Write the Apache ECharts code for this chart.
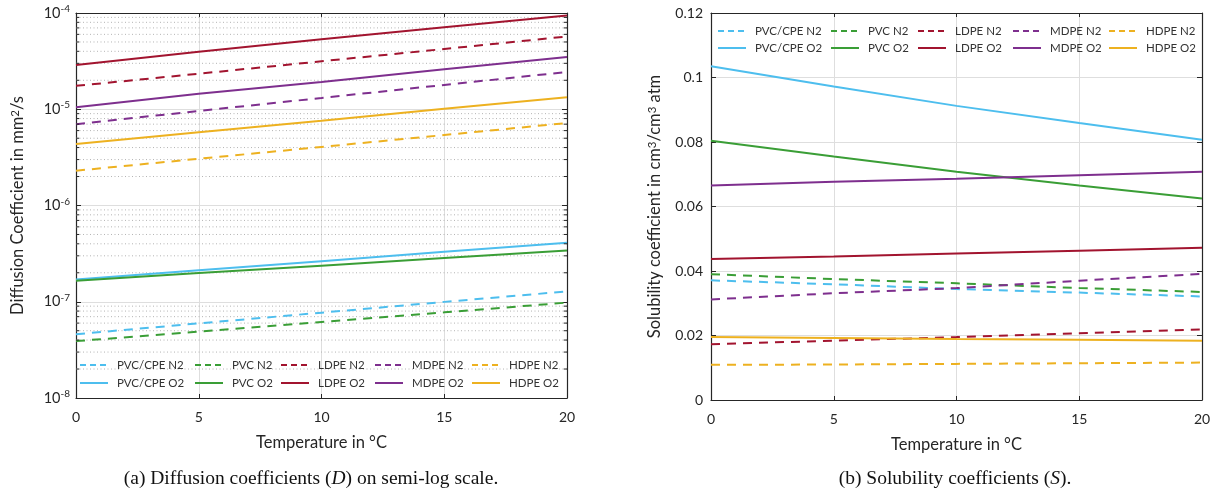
<!DOCTYPE html>
<html><head><meta charset="utf-8">
<script src="https://cdn.jsdelivr.net/npm/echarts@6/dist/echarts.min.js"></script>
<style>html,body{margin:0;padding:0;background:#fff}#c{width:1225px;height:499px}</style>
</head><body><div id="c"></div>
<script>
// ---------- data ----------
const temperatures = [0, 5, 10, 15, 20];
const seriesNames = ['PVC/CPE N2', 'PVC N2', 'LDPE N2', 'MDPE N2', 'HDPE N2',
                     'PVC/CPE O2', 'PVC O2', 'LDPE O2', 'MDPE O2', 'HDPE O2'];
// Diffusion coefficients, mm^2/s
const D_PVCCPE_N2 = [4.6e-8, 5.96e-8, 7.7e-8, 9.97e-8, 1.28e-7];
const D_PVC_N2    = [3.9e-8, 4.9e-8, 6.17e-8, 7.76e-8, 9.8e-8];
const D_LDPE_N2   = [1.75e-5, 2.34e-5, 3.15e-5, 4.23e-5, 5.7e-5];
const D_MDPE_N2   = [7.0e-6, 9.6e-6, 1.31e-5, 1.79e-5, 2.44e-5];
const D_HDPE_N2   = [2.3e-6, 3.06e-6, 4.06e-6, 5.4e-6, 7.2e-6];
const D_PVCCPE_O2 = [1.7e-7, 2.12e-7, 2.64e-7, 3.3e-7, 4.1e-7];
const D_PVC_O2    = [1.65e-7, 1.99e-7, 2.37e-7, 2.84e-7, 3.4e-7];
const D_LDPE_O2   = [2.88e-5, 3.96e-5, 5.33e-5, 7.1e-5, 9.4e-5];
const D_MDPE_O2   = [1.05e-5, 1.45e-5, 1.92e-5, 2.6e-5, 3.5e-5];
const D_HDPE_O2   = [4.36e-6, 5.77e-6, 7.6e-6, 1.01e-5, 1.33e-5];
// Solubility coefficients, cm^3/cm^3 atm
const S_PVCCPE_N2 = [0.0371, 0.0359, 0.0344, 0.0333, 0.0321];
const S_PVC_N2    = [0.0390, 0.0375, 0.0362, 0.0347, 0.0335];
const S_LDPE_N2   = [0.0173, 0.0184, 0.0195, 0.0207, 0.0219];
const S_MDPE_N2   = [0.0312, 0.0331, 0.0347, 0.0370, 0.0391];
const S_HDPE_N2   = [0.0109, 0.0110, 0.0112, 0.0114, 0.0116];
const S_PVCCPE_O2 = [0.1035, 0.0972, 0.0912, 0.0859, 0.0807];
const S_PVC_O2    = [0.0804, 0.0755, 0.0708, 0.0665, 0.0625];
const S_LDPE_O2   = [0.0437, 0.0445, 0.0454, 0.0463, 0.0472];
const S_MDPE_O2   = [0.0665, 0.0677, 0.0686, 0.0697, 0.0708];
const S_HDPE_O2   = [0.0195, 0.0192, 0.0189, 0.0187, 0.0184];
// tick values
const xTicks = [0, 5, 10, 15, 20];
const logDecades = [-8, -7, -6, -5, -4];
const minorMultipliers = [2, 3, 4, 5, 6, 7, 8, 9];

const diffusion = [D_PVCCPE_N2, D_PVC_N2, D_LDPE_N2, D_MDPE_N2, D_HDPE_N2,
                   D_PVCCPE_O2, D_PVC_O2, D_LDPE_O2, D_MDPE_O2, D_HDPE_O2];
const solubility = [S_PVCCPE_N2, S_PVC_N2, S_LDPE_N2, S_MDPE_N2, S_HDPE_N2,
                    S_PVCCPE_O2, S_PVC_O2, S_LDPE_O2, S_MDPE_O2, S_HDPE_O2];

// ---------- styling ----------
const colors = ['#4DBEEE', '#3A9E36', '#A2142F', '#7E2F8E', '#EDB120'];
const FONT = 'Lato, "Open Sans", sans-serif';
const AX = '#262626';
const dashPattern = [9, 7];

const minorGrid = [];
logDecades.slice(0, -1).forEach(e => minorMultipliers.forEach(m => minorGrid.push(m * Math.pow(10, e))));

function pairs(arr) { return temperatures.map((t, i) => [t, arr[i]]); }

const series = [];
// minor dotted gridlines + minor tick marks of the log plot (drawn through the log axis)
const xMin = xTicks[0], xMax = xTicks[xTicks.length - 1];
const tickLen = 0.13; // in x-axis units (~3px)
minorGrid.forEach(v => {
  const base = { type: 'line', xAxisIndex: 0, yAxisIndex: 0, symbol: 'none', silent: true, animation: false, z: 1 };
  series.push({ ...base, data: [[xMin, v], [xMax, v]], lineStyle: { type: [1, 2.5], color: '#b4b4b4', width: 1 } });
  series.push({ ...base, z: 4, data: [[xMin, v], [xMin + tickLen, v]], lineStyle: { color: AX, width: 1 } });
  series.push({ ...base, z: 4, data: [[xMax - tickLen, v], [xMax, v]], lineStyle: { color: AX, width: 1 } });
});

function addSeries(dataArrs, xi, yi) {
  dataArrs.forEach((arr, i) => {
    series.push({
      type: 'line', name: seriesNames[i], xAxisIndex: xi, yAxisIndex: yi,
      data: pairs(arr), symbol: 'none', smooth: false, animation: false, z: 3,
      lineStyle: { width: 2, color: colors[i % 5], type: i < 5 ? dashPattern : 'solid' },
      itemStyle: { color: colors[i % 5] }
    });
  });
}
addSeries(diffusion, 0, 0);
addSeries(solubility, 2, 2);

const tickLabel = { color: AX, fontFamily: FONT, fontSize: 14 };
const nameStyle = { color: AX, fontFamily: FONT, fontSize: 16.5 };
function xAx(grid, pos, main) {
  return {
    gridIndex: grid, type: 'value', min: 0, max: 20, interval: 5, position: pos,
    axisLine: { show: true, onZero: false, lineStyle: { color: AX, width: 1.2 } },
    axisTick: { show: true, inside: true, length: 4, lineStyle: { color: AX } },
    axisLabel: { show: main, margin: 12, ...tickLabel },
    splitLine: { show: main, lineStyle: { color: '#dedede', width: 1 } },
    name: main ? 'Temperature in °C' : '', nameLocation: 'middle', nameGap: 36, nameTextStyle: nameStyle
  };
}
const sup = { fontSize: 10, fontFamily: FONT, color: AX, verticalAlign: 'top', lineHeight: 10 };
function logAx(pos, main) {
  return {
    gridIndex: 0, type: 'log', logBase: 10, min: 1e-8, max: 1e-4, splitNumber: 4, position: pos,
    axisLine: { show: true, onZero: false, lineStyle: { color: AX, width: 1.2 } },
    axisTick: { show: true, inside: true, length: 5, lineStyle: { color: AX } },
    axisLabel: {
      show: main, margin: 6,
      formatter: v => '{b|10}{s|' + Math.round(Math.log10(v)) + '}',
      rich: { b: { fontSize: 14.5, fontFamily: FONT, color: AX, lineHeight: 18 }, s: sup }
    },
    splitLine: { show: main, lineStyle: { color: '#dedede', width: 1 } },
    name: main ? 'Diffusion Coefficient in mm{s|2}/s' : '', nameLocation: 'middle', nameGap: 50,
    nameTextStyle: { ...nameStyle, rich: { s: { ...sup, fontSize: 11.5 } } }
  };
}
function linAx(pos, main) {
  return {
    gridIndex: 1, type: 'value', min: 0, max: 0.12, interval: 0.02, position: pos,
    axisLine: { show: true, onZero: false, lineStyle: { color: AX, width: 1.2 } },
    axisTick: { show: true, inside: true, length: 5, lineStyle: { color: AX } },
    axisLabel: { show: main, margin: 8, ...tickLabel },
    splitLine: { show: main, lineStyle: { color: '#dedede', width: 1 } },
    name: main ? 'Solubility coefficient in cm{s|3}/cm{s|3} atm' : '', nameLocation: 'middle', nameGap: 48,
    nameTextStyle: { ...nameStyle, rich: { s: { ...sup, fontSize: 11.5 } } }
  };
}

// legends: one per entry so each sits where it does in the figure
const legends = [];
function addLegends(lefts, rowCenters) {
  seriesNames.forEach((n, i) => {
    const dashed = i < 5;
    legends.push({
      data: [n], left: lefts[i % 5], top: rowCenters[dashed ? 0 : 1] - 7,
      selectedMode: false, itemWidth: 28, itemHeight: 14, padding: 0,
      itemStyle: { opacity: 0, borderWidth: 0 },
      lineStyle: { type: dashed ? [6, 4] : 'solid', width: 2, opacity: 1 },
      textStyle: { fontFamily: FONT, fontSize: 11.5, color: '#333', padding: [0, 0, 0, 4] }
    });
  });
}
addLegends([79, 194, 280, 374, 471], [366, 384]);
addLegends([717, 830, 917, 1012, 1108], [32, 49]);

const capFont = '19.5px "Liberation Serif", serif';
const option = {
  animation: false,
  backgroundColor: '#fff',
  grid: [
    { left: 76, right: 658, top: 13, bottom: 101 },
    { left: 711, right: 23, top: 13, bottom: 99 }
  ],
  xAxis: [xAx(0, 'bottom', true), xAx(0, 'top', false), xAx(1, 'bottom', true), xAx(1, 'top', false)],
  yAxis: [logAx('left', true), logAx('right', false), linAx('left', true), linAx('right', false)],
  legend: legends,
  series: series,
  graphic: [
    { type: 'text', x: 311, y: 469, style: { text: '(a) Diffusion coefficients ({i|D}) on semi-log scale.',
      font: capFont, fill: '#111', align: 'center',
      rich: { i: { fontStyle: 'italic', fontFamily: '"Liberation Serif", serif', fontSize: 19.5 } } } },
    { type: 'text', x: 955, y: 469, style: { text: '(b) Solubility coefficients ({i|S}).',
      font: capFont, fill: '#111', align: 'center',
      rich: { i: { fontStyle: 'italic', fontFamily: '"Liberation Serif", serif', fontSize: 19.5 } } } }
  ]
};
echarts.init(document.getElementById('c')).setOption(option);
</script></body></html>
